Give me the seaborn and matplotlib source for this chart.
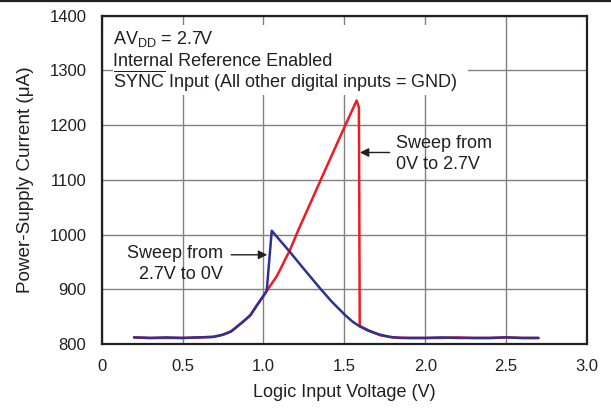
import matplotlib
matplotlib.use("Agg")
import matplotlib.pyplot as plt
import seaborn as sns
import pandas as pd
from matplotlib.lines import Line2D
from matplotlib.patches import Rectangle

# Sweep from 0V to 2.7V (red)
up_x = [0.2, 0.3, 0.4, 0.5, 0.6, 0.69, 0.75, 0.8, 0.875, 0.92, 0.96, 1.0, 1.02,
        1.05, 1.08, 1.1, 1.13, 1.164, 1.215, 1.3, 1.36, 1.43, 1.497, 1.576,
        1.59, 1.595, 1.65, 1.72, 1.8, 1.9, 2.0, 2.1, 2.2, 2.3, 2.4, 2.5, 2.6, 2.7]
up_y = [812, 811, 811, 811, 812, 813, 817, 823, 841, 853, 871, 888, 897,
        910, 923, 934, 952, 972, 1008, 1064, 1104, 1150, 1194, 1245,
        1232, 833, 825, 816, 812, 811, 811, 811, 812, 811, 811, 812, 811, 811]

# Sweep from 2.7V to 0V (blue)
down_x = [2.7, 2.6, 2.5, 2.4, 2.3, 2.2, 2.1, 2.0, 1.9, 1.844, 1.78, 1.72, 1.65,
          1.596, 1.55, 1.504, 1.42, 1.349, 1.25, 1.164, 1.1, 1.051, 1.02, 1.0,
          0.96, 0.92, 0.875, 0.8, 0.75, 0.69, 0.6, 0.5, 0.4, 0.3, 0.2]
down_y = [811, 811, 812, 811, 811, 811, 812, 811, 811, 811, 813, 817, 824,
          832, 841, 853, 878, 902, 937, 968, 990, 1007, 897, 888,
          871, 853, 841, 823, 817, 813, 812, 811, 812, 811, 812]

x_ticks = [0, 0.5, 1.0, 1.5, 2.0, 2.5, 3.0]
x_tick_labels = ["0", "0.5", "1.0", "1.5", "2.0", "2.5", "3.0"]
y_ticks = [800, 900, 1000, 1100, 1200, 1300, 1400]

note_lines = ["AV$_{\\mathrm{DD}}$ = 2.7V",
              "Internal Reference Enabled",
              "$\\overline{\\mathrm{SYNC}}$ Input (All other digital inputs = GND)"]

sns.set_theme(style="white")
plt.rcParams['font.family'] = ['Liberation Sans', 'DejaVu Sans']
plt.rcParams['mathtext.fontset'] = 'custom'
plt.rcParams['mathtext.rm'] = 'Liberation Sans'
plt.rcParams['mathtext.it'] = 'Liberation Sans:italic'
plt.rcParams['mathtext.bf'] = 'Liberation Sans:bold'

TXT = '#231F20'
RED = '#ED1C24'
BLUE = '#2E3192'
FS = 13

fig = plt.figure(figsize=(6.11, 4.08), dpi=100)
ax = fig.add_axes([0.1665, 0.1569, 0.9607 - 0.1665, 0.9615 - 0.1569])

df_up = pd.DataFrame({"x": up_x, "y": up_y})
df_down = pd.DataFrame({"x": down_x, "y": down_y})
sns.lineplot(data=df_up, x="x", y="y", sort=False, estimator=None,
             color=RED, linewidth=1.8, ax=ax, zorder=3)
sns.lineplot(data=df_down, x="x", y="y", sort=False, estimator=None,
             color=BLUE, linewidth=1.8, ax=ax, zorder=4)

ax.set_xlim(0, 3.0)
ax.set_ylim(800, 1400)
ax.set_xticks(x_ticks)
ax.set_xticklabels(x_tick_labels)
ax.set_yticks(y_ticks)
ax.grid(True, color='#808080', linewidth=1.0)
ax.set_axisbelow(True)
ax.tick_params(axis='both', length=0, labelsize=12, colors=TXT)
ax.tick_params(axis='x', pad=11)
ax.tick_params(axis='y', pad=11)
for s in ax.spines.values():
    s.set_color(TXT)
    s.set_linewidth(1.6)
    s.set_visible(True)

ax.set_xlabel("Logic Input Voltage (V)", fontsize=FS, color=TXT, labelpad=7)
ax.set_ylabel("Power-Supply Current (\u03bcA)", fontsize=13.6, color=TXT, labelpad=11)

# white panel behind the condition notes (hides the grid there)
ax.add_patch(Rectangle((0.023, 0.7585), 0.732, 0.2132, transform=ax.transAxes,
                       facecolor='white', edgecolor='none', zorder=1.5))
for yy, line in zip([0.9138, 0.8468, 0.7798], note_lines):
    ax.text(0.023, yy, line, transform=ax.transAxes, ha='left', va='baseline',
            fontsize=FS, color=TXT, zorder=5)

ax.annotate("", xy=(1.596, 1150), xytext=(1.78, 1150),
            arrowprops=dict(arrowstyle='-|>', color=TXT, lw=1.0,
                            mutation_scale=13, shrinkA=0, shrinkB=0), zorder=6)
ax.text(1.817, 1147, "Sweep from\n0V to 2.7V", ha='left', va='center',
        fontsize=FS, color=TXT, linespacing=1.3, zorder=6)

ax.annotate("", xy=(1.023, 963), xytext=(0.80, 963),
            arrowprops=dict(arrowstyle='-|>', color=TXT, lw=1.0,
                            mutation_scale=13, shrinkA=0, shrinkB=0), zorder=6)
ax.text(0.75, 946, "Sweep from\n2.7V to 0V", ha='right', va='center',
        fontsize=FS, color=TXT, linespacing=1.3, zorder=6,
        multialignment='right')

fig.add_artist(Line2D([0, 1], [0.997, 0.997], transform=fig.transFigure,
                      color=TXT, linewidth=1.6))

fig.savefig("out.png", dpi=100)
